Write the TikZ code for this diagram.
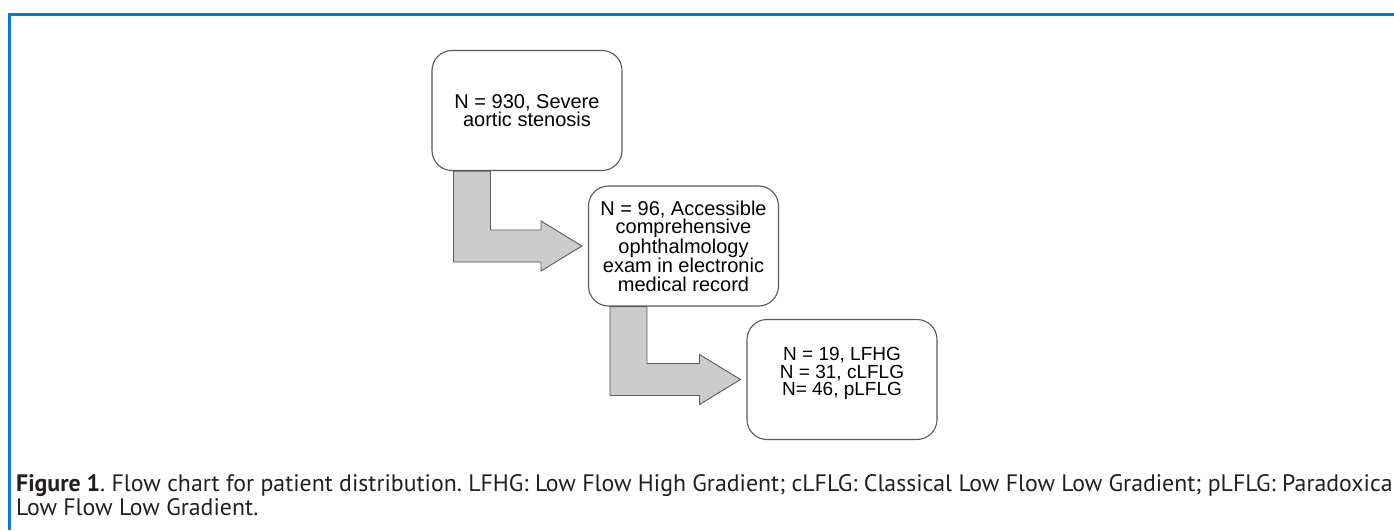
\documentclass[tikz,border=0pt]{standalone}
\usepackage{fontspec}
\setmainfont{Liberation Sans}
\newfontfamily\capfont{PT Sans}
\usetikzlibrary{calc}
\definecolor{frameblue}{RGB}{8,125,196}
\definecolor{arrowgray}{RGB}{204,204,204}
\definecolor{edgegray}{RGB}{90,90,90}
\definecolor{captext}{RGB}{35,31,32}

% Bent block arrow leaving the bottom of #1 and pointing at the west side of #2
\newcommand\elbowarrow[2]{%
  \draw[blockarrow] let \p1=(#1.south west), \p2=(#2.west) in
    (\x1+22,\y1) -- (\x1+59,\y1) -- (\x1+59,\y2+16) -- (\x2-47,\y2+16)
    -- (\x2-47,\y2+25) -- (\x2-6,\y2) -- (\x2-47,\y2-25) -- (\x2-47,\y2-16)
    -- (\x1+22,\y2-16) -- cycle;}

\begin{document}
\frenchspacing
\begin{tikzpicture}[x=1pt,y=-1pt,
  flowbox/.style={draw=edgegray, line width=1.1pt, rounded corners=20pt, fill=white,
    minimum width=190pt, minimum height=120pt, align=center, inner sep=0pt,
    font=\fontsize{20}{18.5}\selectfont},
  blockarrow/.style={draw=edgegray, line width=0.9pt, fill=arrowgray, line join=miter},
  captionline/.style={anchor=base west, inner sep=0pt, text=captext,
    font=\capfont\fontsize{23.8}{24}\selectfont}
]
\useasboundingbox (0,0) rectangle (1394,530);
\fill[white] (0,0) rectangle (1394,530);

% frame
\draw[frameblue, line width=3pt] (9,530) -- (9,14) -- (1394,14);

% boxes
\node[flowbox] (b1) at (527,110.5) {N = 930, Severe\\aortic stenosis};
\node[flowbox] (b2) at (683.5,246) {N = 96, Accessible\\comprehensive\\ophthalmology\\exam in electronic\\medical record};
\node[flowbox] (b3) at (842,379.5) {};
\node[align=center, inner sep=0pt, font=\fontsize{19}{17.5}\selectfont] (b3text) at ($(b3.center)+(0,-6)$)
  {N = 19, LFHG\\N = 31, cLFLG\\N= 46, pLFLG};

% arrows
\elbowarrow{b1}{b2}
\elbowarrow{b2}{b3}

% caption
\node[captionline] (cap1) at (16,491) {\textbf{Figure 1}. Flow chart for patient distribution. LFHG: Low Flow High Gradient; cLFLG: Classical Low Flow Low Gradient; pLFLG: Paradoxica};
\node[captionline] (cap2) at (16,515) {Low Flow Low Gradient.};
\end{tikzpicture}
\end{document}
